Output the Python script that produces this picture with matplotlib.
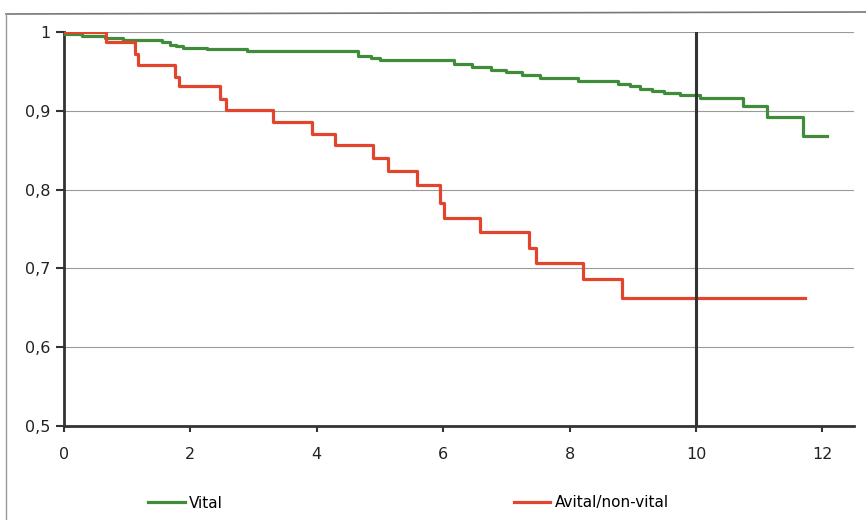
import numpy as np
import matplotlib
matplotlib.use("Agg")
import matplotlib.pyplot as plt
from matplotlib.lines import Line2D

# Kaplan-Meier survival, years
vital_t = [0, 0.28, 0.65, 0.93, 1.55, 1.68, 1.78, 1.88, 2.26, 2.9, 4.65, 4.85, 5.0,
           6.17, 6.45, 6.75, 7.0, 7.25, 7.53, 8.13, 8.77, 8.96, 9.11, 9.30, 9.50,
           9.75, 10.06, 10.74, 11.12, 11.69, 12.07]
vital_s = [0.997, 0.995, 0.992, 0.990, 0.987, 0.984, 0.982, 0.980, 0.978, 0.976,
           0.970, 0.967, 0.964, 0.960, 0.956, 0.952, 0.949, 0.946, 0.942, 0.938,
           0.934, 0.931, 0.928, 0.925, 0.922, 0.920, 0.916, 0.906, 0.892, 0.868, 0.868]

avital_t = [0, 0.66, 1.12, 1.17, 1.76, 1.82, 2.47, 2.56, 3.30, 3.92, 4.29, 4.89, 5.13,
            5.59, 5.95, 6.01, 6.58, 7.36, 7.47, 8.21, 8.83, 11.72]
avital_s = [1.0, 0.987, 0.972, 0.958, 0.943, 0.931, 0.915, 0.901, 0.886, 0.870, 0.856,
            0.840, 0.824, 0.806, 0.783, 0.764, 0.746, 0.726, 0.707, 0.687, 0.663, 0.663]

xticks = [0, 2, 4, 6, 8, 10, 12]
yticks = [0.5, 0.6, 0.7, 0.8, 0.9, 1.0]
ylabels = ["0,5", "0,6", "0,7", "0,8", "0,9", "1"]
cutoff = 10

green = "#3f8d3a"
red = "#e2452d"
dark = "#333333"

fig = plt.figure(figsize=(8.66, 5.2), dpi=100)
ax = fig.add_axes([64 / 866, 1 - 426 / 520, 790 / 866, 394 / 520])

ax.step(vital_t, vital_s, where="post", color=green, lw=2.3, label="Vital", zorder=3)
ax.step(avital_t, avital_s, where="post", color=red, lw=2.3, label="Avital/non-vital", zorder=4)
ax.axvline(cutoff, color=dark, lw=2.2, zorder=5)

ax.set_xlim(0, 12.5)
ax.set_ylim(0.5, 1.0)
ax.set_xticks(xticks)
ax.set_yticks(yticks)
ax.set_yticklabels(ylabels)
ax.grid(axis="y", color="#9a9a9a", lw=0.8)
ax.set_axisbelow(True)

for s in ["top", "right"]:
    ax.spines[s].set_visible(False)
for s in ["left", "bottom"]:
    ax.spines[s].set_color(dark)
    ax.spines[s].set_linewidth(2.0)
ax.tick_params(axis="x", length=4, width=1.5, color=dark, pad=11, labelsize=11.5, labelcolor="#222222")
ax.tick_params(axis="y", length=6, width=1.5, color=dark, pad=4, labelsize=11.5, labelcolor="#222222")

handles, labels = ax.get_legend_handles_labels()
fig.legend(handles, labels, loc="center left", bbox_to_anchor=(142 / 866, 1 - 503 / 520),
           ncol=2, frameon=False, fontsize=11, handlelength=2.4, handletextpad=0.3,
           columnspacing=19.0, borderaxespad=0)

# scanned page frame
fig.add_artist(Line2D([6 / 866, 1], [1 - 14 / 520, 1 - 12 / 520], color="#777777", lw=1.2))
fig.add_artist(Line2D([6 / 866, 6 / 866], [0, 1 - 14 / 520], color="#999999", lw=1.0))

fig.savefig("out.png", dpi=100)
